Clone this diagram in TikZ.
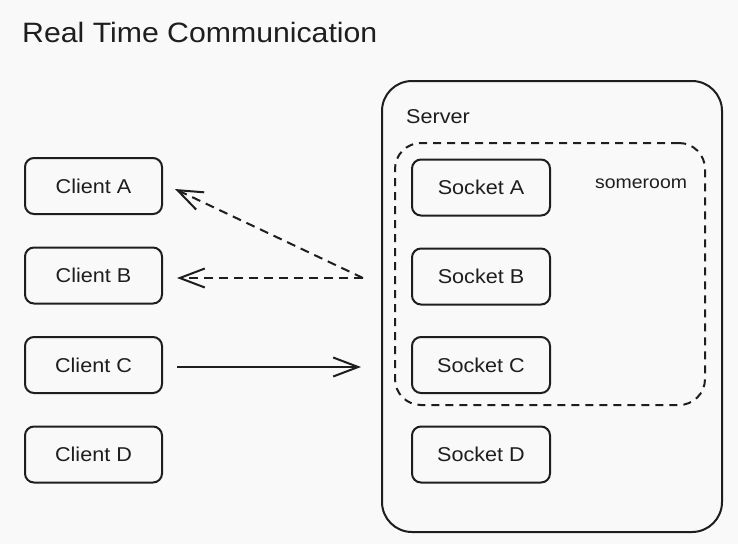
\documentclass[tikz,border=0pt]{standalone}
\usepackage{fontspec}
\setmainfont[FakeStretch=1.08]{Liberation Sans}
\usetikzlibrary{arrows.meta}
\definecolor{ink}{HTML}{1E1E1E}
\definecolor{bg}{HTML}{F9F9F9}
\tikzset{
  box/.style={draw=ink, line width=2pt, rounded corners=9pt, minimum width=137pt, minimum height=56pt,
    text=ink, font=\fontsize{20}{24}\selectfont, text depth=0pt, inner sep=0pt},
  lbl/.style={text=ink, inner sep=0pt, anchor=base west},
  conn/.style={draw=ink, line width=2pt, -{Straight Barb[length=25pt, width=19pt, line width=2pt]}},
  dsh/.style={dash pattern=on 9pt off 6pt},
}
\begin{document}
\begin{tikzpicture}[x=1pt, y=-1pt]
\fill[bg] (0,0) rectangle (738,544);
\useasboundingbox (0,0) rectangle (738,544);
\node[lbl, font=\fontsize{28}{32}\selectfont] (title) at (22,42) {Real Time Communication};
% server and room
\node[draw=ink, line width=2pt, rounded corners=30pt, minimum width=340pt, minimum height=451pt] (server) at (552,306.5) {};
\node[lbl, font=\fontsize{20}{24}\selectfont] (srvlbl) at (406,123) {Server};
\node[draw=ink, line width=2pt, dash pattern=on 8pt off 6pt, rounded corners=26pt, minimum width=310pt, minimum height=262pt] (room) at (550,274) {};
\node[lbl, font=\fontsize{18}{22}\selectfont] (roomlbl) at (595,188) {someroom};
% clients
\node[box] (cA) at (93.5,186) {Client A};
\node[box] (cB) at (93.5,275.5) {Client B};
\node[box] (cC) at (93.5,365) {Client C};
\node[box] (cD) at (93.5,454.5) {Client D};
% sockets
\node[box, minimum width=138pt] (sA) at (481,187.5) {Socket A};
\node[box, minimum width=138pt] (sB) at (481,276.5) {Socket B};
\node[box, minimum width=138pt] (sC) at (481,365) {Socket C};
\node[box, minimum width=138pt] (sD) at (481,454.5) {Socket D};
% connectors
\coordinate (hub) at (363,278);
\coordinate (cin) at (361,367);
\draw[conn, dsh] (hub) -- ([xshift=12pt, yshift=-3pt]cA.east);
\draw[conn, dsh] (hub) -- ([xshift=14pt, yshift=-2.5pt]cB.east);
\draw[conn] ([xshift=14pt, yshift=-2pt]cC.east) -- (cin);
\end{tikzpicture}
\end{document}
